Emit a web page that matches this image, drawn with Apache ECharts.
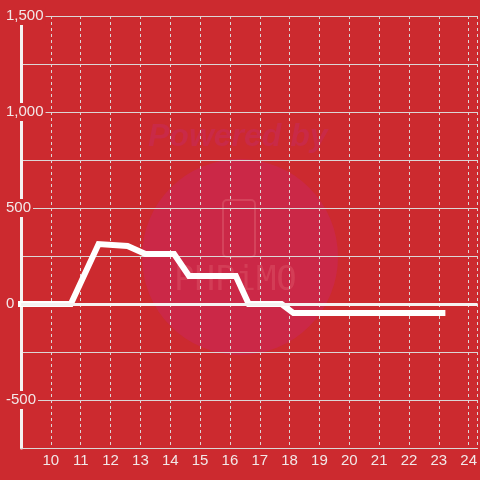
<!DOCTYPE html>
<html>
<head>
<meta charset="utf-8">
<script src="https://cdn.jsdelivr.net/npm/echarts@6/dist/echarts.min.js"></script>
<style>
  html, body { margin: 0; padding: 0; background: #cc2a2f; }
  #chart { width: 480px; height: 480px; }
</style>
</head>
<body>
<div id="chart"></div>
<script>
// values
const xValues = [8.87, 10.67, 11.6, 12.57, 13.17, 14.13, 14.63, 16.2, 16.63, 17.73, 18.13, 23.22]
const yValues = [0, 0, 312, 302, 260, 260, 146, 146, 0, 0, -47, -47]
const yLabelValues = [-500, 0, 500, 1000, 1500]

const bg = '#cc2a2f'
const textColor = '#f2e8e8'
const gridColor = '#dcd6d6'

const chart = echarts.init(document.getElementById('chart'))

const option = {
  backgroundColor: bg,
  animation: false,
  grid: { left: 21, right: 0, top: 16, bottom: 32 },
  graphic: [
    { type: 'circle', z: 0, shape: { cx: 240, cy: 257, r: 98 }, style: { fill: '#cb2847' } },
    {
      type: 'text', z: 0, x: 148, y: 121,
      style: { text: 'Powered by', fill: '#c92a47', font: 'italic bold 32px "Liberation Sans", sans-serif' }
    },
    {
      type: 'rect', z: 0, shape: { x: 223, y: 200, width: 32, height: 57, r: 4 },
      style: { fill: 'none', stroke: 'rgba(225,100,115,0.45)', lineWidth: 2 }
    },
    {
      type: 'text', z: 0, x: 174, y: 264,
      style: { text: 'PHPiMO', fill: 'rgba(225,100,115,0.35)', font: '34px "DejaVu Sans Mono", monospace' }
    }
  ],
  xAxis: {
    type: 'value',
    z: 1,
    min: 9,
    max: 24.3,
    interval: 1,
    axisLine: { onZero: false, lineStyle: { color: gridColor, width: 1 } },
    axisTick: { show: false },
    axisLabel: {
      showMinLabel: false,
      color: textColor,
      fontSize: 15,
      fontFamily: '"Liberation Sans", Arial, sans-serif',
      margin: 5
    },
    splitLine: { show: true, lineStyle: { color: gridColor, width: 1, type: [3, 3] } }
  },
  yAxis: [
    {
      type: 'value',
      z: 1,
      min: -750,
      max: 1500,
      interval: 250,
      axisLine: { show: true, onZero: false, lineStyle: { color: '#f5f2f2', width: 3 } },
      axisTick: { show: false },
      axisLabel: { show: false },
      splitLine: { show: true, lineStyle: { color: gridColor, width: 1 } }
    },
    {
      type: 'value',
      z: 3,
      min: -750,
      max: 1500,
      interval: 250,
      position: 'left',
      axisLine: { show: false, onZero: false },
      axisTick: { show: false },
      splitLine: { show: false },
      axisLabel: {
        customValues: yLabelValues,
        align: 'left',
        margin: 17,
        color: textColor,
        fontSize: 15,
        fontFamily: '"Liberation Sans", Arial, sans-serif',
        backgroundColor: bg,
        padding: [3, 2, 0, 2],
        lineHeight: 15,
        formatter: v => v.toLocaleString('en-US')
      }
    }
  ],
  series: [
    {
      type: 'line',
      z: 4,
      data: xValues.map((x, i) => [x, yValues[i]]),
      showSymbol: false,
      clip: false,
      lineStyle: { color: '#ffffff', width: 6, join: 'miter' },
      markLine: {
        silent: true,
        symbol: 'none',
        label: { show: false },
        lineStyle: { color: '#f5f2f2', width: 3, type: 'solid' },
        data: [{ yAxis: 0 }]
      }
    }
  ]
}

chart.setOption(option)
</script>
</body>
</html>
